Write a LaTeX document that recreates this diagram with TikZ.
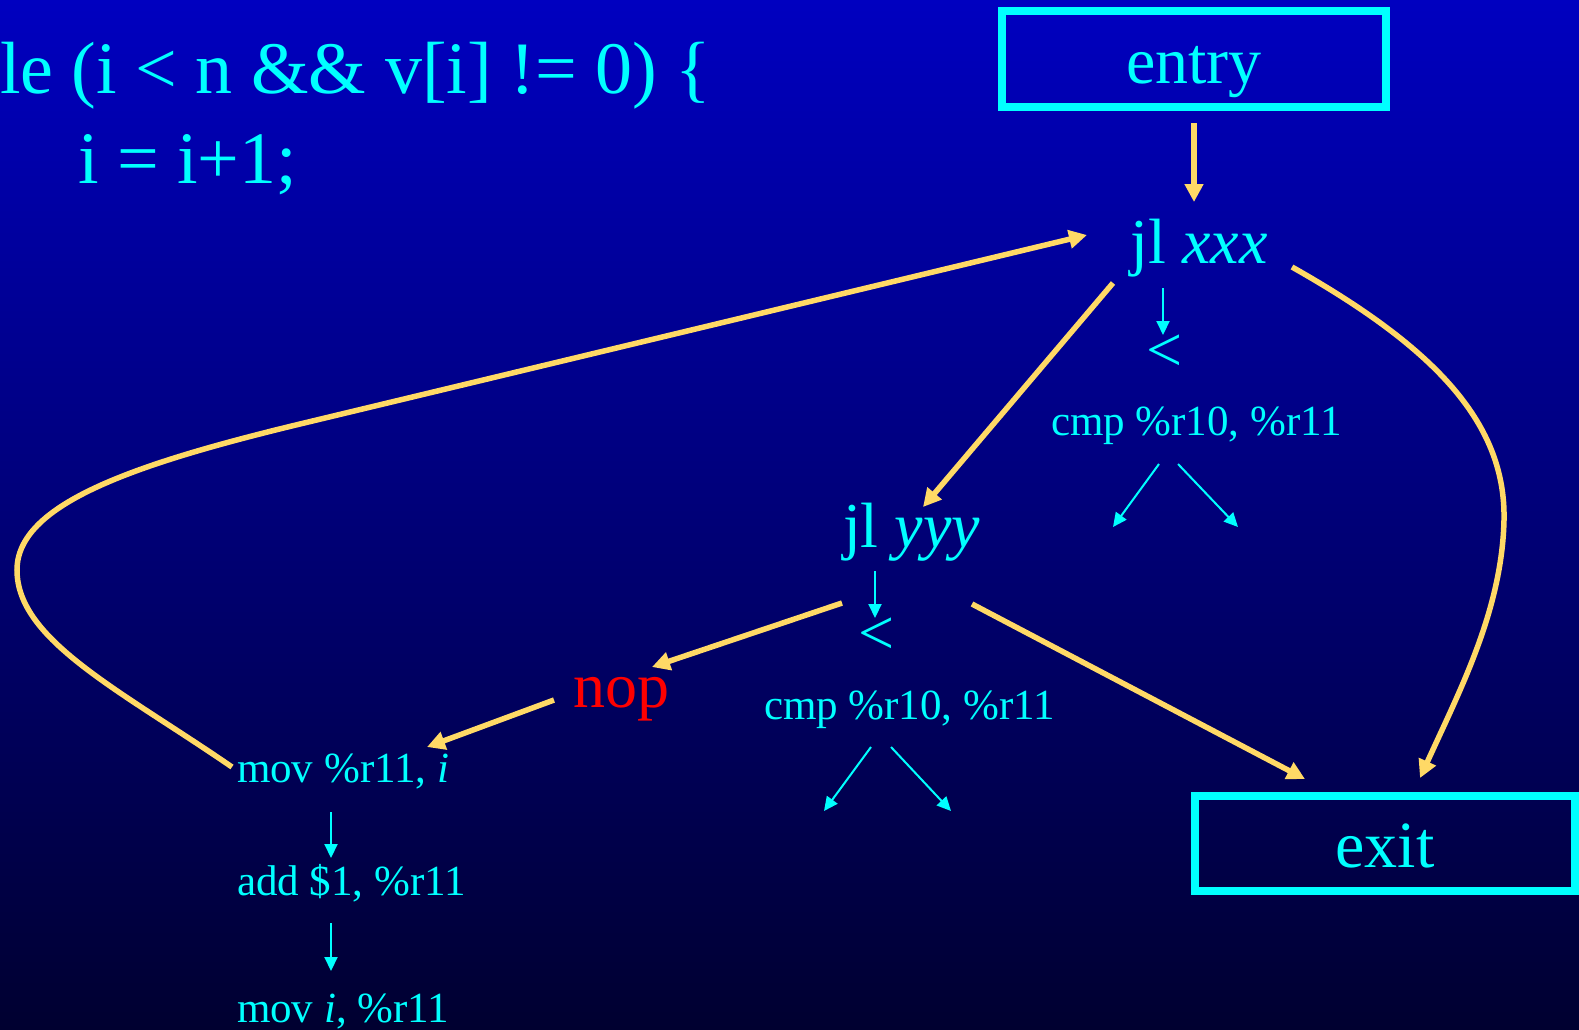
\documentclass[tikz,border=0pt]{standalone}
\usepackage{fontspec}
\setmainfont{Liberation Serif}
\usetikzlibrary{arrows.meta}
\definecolor{bgtop}{RGB}{0,0,192}
\definecolor{bgbot}{RGB}{0,0,48}
\definecolor{cy}{RGB}{0,255,255}
\definecolor{yel}{RGB}{255,217,102}
\definecolor{nopred}{RGB}{255,0,0}
\tikzset{
  txt/.style={text=cy, inner sep=0pt, outer sep=0pt},
  bigtxt/.style={txt, font=\fontsize{74}{80}\selectfont},
  midtxt/.style={txt, font=\fontsize{64}{70}\selectfont},
  smltxt/.style={txt, font=\fontsize{43}{46}\selectfont},
  boxn/.style={draw=cy, line width=8pt, inner sep=0pt, outer sep=0pt, text=cy,
     font=\fontsize{66}{70}\selectfont, text height=48pt, text depth=0pt},
  yarr/.style={draw=yel, line width=5.5pt, -{Triangle[length=18pt,width=18pt]}},
  carr/.style={draw=cy, line width=2pt, -{Triangle[length=14pt,width=13pt]}},
}
\begin{document}
\begin{tikzpicture}[x=1pt,y=-1pt]
\useasboundingbox (0,0) rectangle (1579,1029);
\shade[top color=bgtop, bottom color=bgbot] (0,0) rectangle (1579,1029);

% source code
\node[bigtxt, anchor=base west] (code1) at (0,93) {le (i < n \&\& v[i] != 0) \{};
\node[bigtxt, anchor=base west] (code2) at (78,183) {i = i+1;};

% boxes
\node[boxn, minimum width=384pt, minimum height=96pt] (entry) at (1194,59) {entry};
\node[boxn, minimum width=380pt, minimum height=95pt] (exit) at (1385,843.5) {exit};

% jl xxx block
\node[midtxt, anchor=base] (jlx) at (1199,263) {jl \textit{xxx}};
\node[midtxt, anchor=base] (lt1) at (1165,371) {<};
\node[smltxt, anchor=base] (cmp1) at (1196.5,435) {cmp \%r10, \%r11};

% jl yyy block
\node[midtxt, anchor=base] (jly) at (911.5,547) {jl \textit{yyy}};
\node[midtxt, anchor=base] (lt2) at (877,654) {<};
\node[smltxt, anchor=base] (cmp2) at (909.5,719) {cmp \%r10, \%r11};

% nop
\node[txt, text=nopred, font=\fontsize{64}{70}\selectfont, anchor=base] (nop) at (621,707) {nop};

% mov / add
\node[smltxt, anchor=base west] (mov1) at (237,782) {mov \%r11, \textit{i}};
\node[smltxt, anchor=base west] (add) at (237,895) {add \$1, \%r11};
\node[smltxt, anchor=base west] (mov2) at (237,1022) {mov \textit{i}, \%r11};

% connector end points
\coordinate (entryS) at (1194,123);
\coordinate (jlxN) at (1194,202);
\coordinate (jlxSW) at (1113,283);
\coordinate (jlyNE) at (923,507);
\coordinate (jlxW) at (1087,235);
\coordinate (jlxE) at (1292,267);
\coordinate (jlyW) at (842,603);
\coordinate (jlyE) at (972,604);
\coordinate (nopNE) at (652,667);
\coordinate (nopW) at (554,700);
\coordinate (movNE) at (427,747);
\coordinate (movW) at (232,767);
\coordinate (exitNW) at (1305,779);
\coordinate (exitN) at (1420,778);
\coordinate (jlxS) at (1163,288);
\coordinate (lt1N) at (1163,335);
\coordinate (jlyS) at (875,571);
\coordinate (lt2N) at (875,618);
\coordinate (cmp1L) at (1159,464);
\coordinate (cmp1R) at (1178,464);
\coordinate (cmp1LL) at (1113,527);
\coordinate (cmp1RR) at (1238,527);
\coordinate (cmp2L) at (871,747);
\coordinate (cmp2R) at (891,747);
\coordinate (cmp2LL) at (824,811);
\coordinate (cmp2RR) at (951,811);
\coordinate (movS) at (331,812);
\coordinate (addN) at (331,858);
\coordinate (addS) at (331,923);
\coordinate (mov2N) at (331,971);

% yellow control-flow arrows
\draw[yarr] (entryS) -- (jlxN);
\draw[yarr] (jlxSW) -- (jlyNE);
\draw[yarr] (jlyW) -- (nopNE);
\draw[yarr] (nopW) -- (movNE);
\draw[yarr] (jlyE) -- (exitNW);
\draw[yarr] (jlxE) .. controls (1430,345) and (1506,420) .. (1504,520)
                   .. controls (1502,610) and (1460,690) .. (exitN);
\draw[yarr] (movW) .. controls (120,690) and (17,640) .. (17,570)
                   .. controls (17,505) and (130,465) .. (300,424) -- (jlxW);

% cyan arrows
\draw[carr] (jlxS) -- (lt1N);
\draw[carr] (jlyS) -- (lt2N);
\draw[carr] (cmp1L) -- (cmp1LL);
\draw[carr] (cmp1R) -- (cmp1RR);
\draw[carr] (cmp2L) -- (cmp2LL);
\draw[carr] (cmp2R) -- (cmp2RR);
\draw[carr] (movS) -- (addN);
\draw[carr] (addS) -- (mov2N);
\end{tikzpicture}
\end{document}
